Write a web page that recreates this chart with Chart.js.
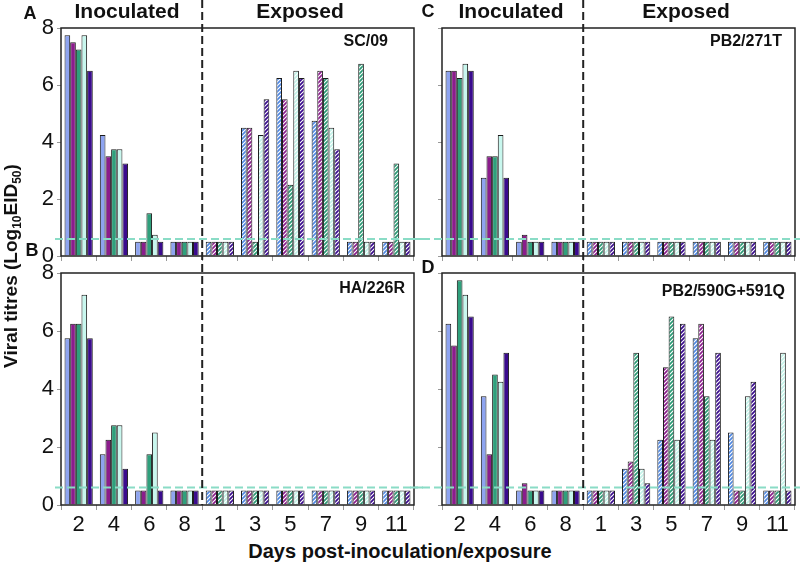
<!DOCTYPE html>
<html>
<head>
<meta charset="utf-8">
<script src="https://cdn.jsdelivr.net/npm/chart.js@4.4.1/dist/chart.umd.min.js"></script>
<style>
  body { margin: 0; background: #fff; }
  #wrap { position: relative; width: 800px; height: 563px; font-family: "Liberation Sans", Arial, sans-serif; color: #111; }
  canvas { position: absolute; }
  .t { position: absolute; transform: translate(-50%, -50%); white-space: nowrap; font-weight: bold; line-height: 1; }
  .name { position: absolute; white-space: nowrap; font-weight: bold; font-size: 16px; line-height: 1; transform: translateY(-50%); }
</style>
</head>
<body>
<div id="wrap">
  <canvas id="chartA" width="390" height="264" style="left:33px;top:0px"></canvas>
  <canvas id="chartB" width="390" height="275" style="left:33px;top:264px"></canvas>
  <canvas id="chartC" width="390" height="264" style="left:410px;top:0px"></canvas>
  <canvas id="chartD" width="390" height="275" style="left:410px;top:264px"></canvas>

  <div class="t" style="left:127px;top:10px;font-size:21px">Inoculated</div>
  <div class="t" style="left:300px;top:10px;font-size:21px">Exposed</div>
  <div class="t" style="left:511px;top:10px;font-size:21px">Inoculated</div>
  <div class="t" style="left:686px;top:10px;font-size:21px">Exposed</div>

  <div class="t" style="left:30px;top:13px;font-size:18px">A</div>
  <div class="t" style="left:32px;top:250px;font-size:18px">B</div>
  <div class="t" style="left:428px;top:11px;font-size:18px">C</div>
  <div class="t" style="left:428px;top:267px;font-size:18px">D</div>

  <div class="name" style="right:412px;top:41px">SC/09</div>
  <div class="name" style="right:18px;top:41px">PB2/271T</div>
  <div class="name" style="right:395px;top:288px">HA/226R</div>
  <div class="name" style="right:15px;top:291px">PB2/590G+591Q</div>

  <div class="t" style="left:12px;top:266px;font-size:19px;transform:translate(-50%,-50%) rotate(-90deg)">Viral titres (Log<sub style="font-size:12px">10</sub>EID<sub style="font-size:12px">50</sub>)</div>
  <div class="t" style="left:400px;top:551px;font-size:20px">Days post-inoculation/exposure</div>
</div>

<script>
// x categories: days post-inoculation (2-8), then days post-exposure (1-11)
var days = ["2", "4", "6", "8", "1", "3", "5", "7", "9", "11"];
var inocCount = 4; // first 4 groups are inoculated animals
var detectionLimit = 0.6;

// SC/09
var a1 = [7.75, 4.25, 0.5, 0.5, 0.5, 4.5, 6.25, 4.75, 0.5, 0.5];
var a2 = [7.5, 3.5, 0.5, 0.5, 0.5, 4.5, 5.5, 6.5, 0.5, 0.5];
var a3 = [7.25, 3.75, 1.5, 0.5, 0.5, 0.5, 2.5, 6.25, 6.75, 3.25];
var a4 = [7.75, 3.75, 0.75, 0.5, 0.5, 4.25, 6.5, 4.5, 0.5, 0.5];
var a5 = [6.5, 3.25, 0.5, 0.5, 0.5, 5.5, 6.25, 3.75, 0.5, 0.5];

// HA/226R
var b1 = [5.75, 1.75, 0.5, 0.5, 0.5, 0.5, 0.5, 0.5, 0.5, 0.5];
var b2 = [6.25, 2.25, 0.5, 0.5, 0.5, 0.5, 0.5, 0.5, 0.5, 0.5];
var b3 = [6.25, 2.75, 1.75, 0.5, 0.5, 0.5, 0.5, 0.5, 0.5, 0.5];
var b4 = [7.25, 2.75, 2.5, 0.5, 0.5, 0.5, 0.5, 0.5, 0.5, 0.5];
var b5 = [5.75, 1.25, 0.5, 0.5, 0.5, 0.5, 0.5, 0.5, 0.5, 0.5];

// PB2/271T
var c1 = [6.5, 2.75, 0.5, 0.5, 0.5, 0.5, 0.5, 0.5, 0.5, 0.5];
var c2 = [6.5, 3.5, 0.75, 0.5, 0.5, 0.5, 0.5, 0.5, 0.5, 0.5];
var c3 = [6.25, 3.5, 0.5, 0.5, 0.5, 0.5, 0.5, 0.5, 0.5, 0.5];
var c4 = [6.75, 4.25, 0.5, 0.5, 0.5, 0.5, 0.5, 0.5, 0.5, 0.5];
var c5 = [6.5, 2.75, 0.5, 0.5, 0.5, 0.5, 0.5, 0.5, 0.5, 0.5];

// PB2/590G+591Q
var d1 = [6.25, 3.75, 0.5, 0.5, 0.5, 1.25, 2.25, 5.75, 2.5, 0.5];
var d2 = [5.5, 1.75, 0.75, 0.5, 0.5, 1.5, 4.75, 6.25, 0.5, 0.5];
var d3 = [7.75, 4.5, 0.5, 0.5, 0.5, 5.25, 6.5, 3.75, 0.5, 0.5];
var d4 = [7.25, 4.25, 0.5, 0.5, 0.5, 1.25, 2.25, 2.25, 3.75, 5.25];
var d5 = [6.5, 5.25, 0.5, 0.5, 0.5, 0.75, 6.25, 5.25, 4.25, 0.5];

// one colour per animal (solid = inoculated, stripes = exposed)
var colors = ["#8ea4f0", "#8b1c8c", "#2fa07c", "#c8f7ee", "#3a0b8e"];
var stripeColors = ["#4f88e2", "#8b1c8c", "#2a9a74", "#c2f2e8", "#3a0b8e"];

// diagonal stripes for the exposed animals
function hatch(color) {
  var c = document.createElement("canvas");
  c.width = 4; c.height = 4;
  var g = c.getContext("2d");
  g.fillStyle = "#fff";
  g.fillRect(0, 0, 4, 4);
  g.strokeStyle = color;
  g.lineWidth = 1.7;
  g.beginPath();
  g.moveTo(0, 4); g.lineTo(4, 0);
  g.moveTo(-1, 1); g.lineTo(1, -1);
  g.moveTo(3, 5); g.lineTo(5, 3);
  g.stroke();
  return g.createPattern(c, "repeat");
}
var hatches = stripeColors.map(hatch);

// frame, detection limit and inoculated/exposed divider
var overlay = {
  id: "overlay",
  afterDatasetsDraw: function (chart, args, opts) {
    var ctx = chart.ctx, a = chart.chartArea;
    var x = chart.scales.x, y = chart.scales.y;
    ctx.save();
    ctx.strokeStyle = "#222";
    ctx.lineWidth = 1.5;
    ctx.strokeRect(a.left, a.top, a.right - a.left, a.bottom - a.top);

    var yl = y.getPixelForValue(detectionLimit);
    ctx.setLineDash([8, 4]);
    ctx.strokeStyle = "#8adcc6";
    ctx.lineWidth = 2;
    ctx.beginPath();
    ctx.moveTo(a.left - opts.lodLeft, yl);
    ctx.lineTo(chart.width, yl);
    ctx.stroke();

    var xd = (x.getPixelForValue(inocCount - 1) + x.getPixelForValue(inocCount)) / 2;
    ctx.setLineDash([8, 4]);
    ctx.strokeStyle = "#222";
    ctx.lineWidth = 2;
    ctx.beginPath();
    ctx.moveTo(xd, 0);
    ctx.lineTo(xd, opts.toBottom ? a.bottom : chart.height);
    ctx.stroke();
    ctx.restore();
  }
};

function makeChart(id, series, o) {
  var datasets = series.map(function (vals, k) {
    return {
      data: vals,
      backgroundColor: function (c) { return c.dataIndex < inocCount ? colors[k] : hatches[k]; },
      borderColor: "#1a1a1a",
      borderWidth: 1,
      categoryPercentage: 0.8,
      barPercentage: 1.0
    };
  });
  return new Chart(document.getElementById(id).getContext("2d"), {
    type: "bar",
    data: { labels: days, datasets: datasets },
    plugins: [overlay],
    options: {
      responsive: false,
      animation: false,
      layout: { padding: o.padding },
      plugins: {
        legend: { display: false },
        tooltip: { enabled: false },
        overlay: { lodLeft: o.lodLeft, toBottom: o.showX }
      },
      scales: {
        x: {
          grid: { drawOnChartArea: false, drawTicks: true, tickLength: 5, color: "#999" },
          border: { display: false },
          ticks: {
            display: o.showX,
            autoSkip: false,
            maxRotation: 0,
            padding: 2,
            color: "#111",
            font: { family: "'Liberation Sans Narrow', 'Liberation Sans'", size: 22 }
          },
          afterFit: function (s) { s.height = o.showX ? 30 : 6; s.paddingLeft = 0; s.paddingRight = 0; }
        },
        y: {
          min: 0,
          max: 8,
          grid: { drawOnChartArea: false, drawTicks: true, tickLength: 4, color: "#999" },
          border: { display: false },
          ticks: {
            display: o.showY,
            stepSize: 2,
            padding: 3,
            color: "#111",
            font: { family: "'Liberation Sans Narrow', 'Liberation Sans'", size: 22 }
          },
          afterFit: function (s) { s.width = o.yWidth; s.paddingTop = 0; s.paddingBottom = 0; }
        }
      }
    }
  });
}

makeChart("chartA", [a1, a2, a3, a4, a5], { showX: false, showY: true, yWidth: 28, lodLeft: 6, padding: { top: 28, bottom: 2, left: 0, right: 9 } });
makeChart("chartB", [b1, b2, b3, b4, b5], { showX: true, showY: true, yWidth: 28, lodLeft: 6, padding: { top: 9, bottom: 4, left: 0, right: 9 } });
makeChart("chartC", [c1, c2, c3, c4, c5], { showX: false, showY: false, yWidth: 32, lodLeft: 32, padding: { top: 28, bottom: 2, left: 0, right: 5 } });
makeChart("chartD", [d1, d2, d3, d4, d5], { showX: true, showY: false, yWidth: 32, lodLeft: 32, padding: { top: 9, bottom: 4, left: 0, right: 5 } });
</script>
</body>
</html>
